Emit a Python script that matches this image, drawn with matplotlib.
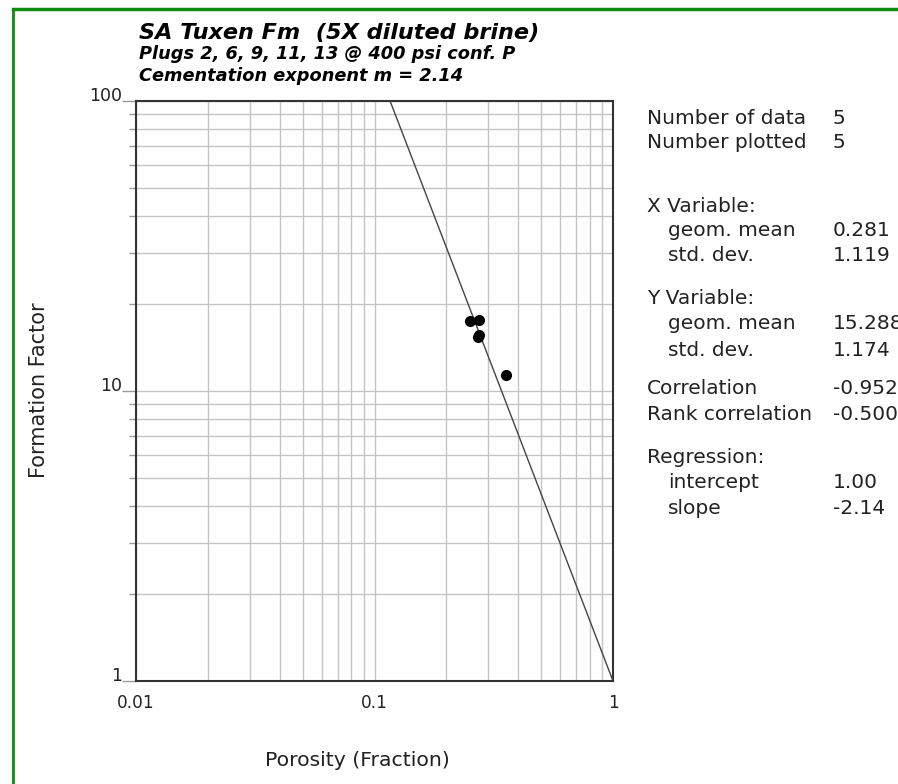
import matplotlib
matplotlib.use("Agg")
import matplotlib.pyplot as plt
import numpy as np
from matplotlib.lines import Line2D
from matplotlib.ticker import LogLocator, NullFormatter, FixedLocator, FixedFormatter

plt.rcParams['font.family'] = ['DejaVu Sans']

# porosity (fraction) and formation factor
porosity = [0.251, 0.275, 0.275, 0.272, 0.355]
formation_factor = [17.5, 17.6, 15.6, 15.3, 11.35]

# regression F = a * phi^-m
intercept = 1.00
m_exp = 2.14

x_ticks = [0.01, 0.1, 1]
x_ticklabels = ["0.01", "0.1", "1"]
y_ticks = [1, 10, 100]
y_ticklabels = ["1", "10", "100"]

title_lines = ["SA Tuxen Fm  (5X diluted brine)",
               "Plugs 2, 6, 9, 11, 13 @ 400 psi conf. P",
               "Cementation exponent m = 2.14"]

stats = [
    ("Number of data", "5", 0),
    ("Number plotted", "5", 0),
    ("X Variable:", "", 0),
    ("geom. mean", "0.281", 1),
    ("std. dev.", "1.119", 1),
    ("Y Variable:", "", 0),
    ("geom. mean", "15.288", 1),
    ("std. dev.", "1.174", 1),
    ("Correlation", "-0.952", 0),
    ("Rank correlation", "-0.500", 0),
    ("Regression:", "", 0),
    ("intercept", "1.00", 1),
    ("slope", "-2.14", 1),
]
stat_rows_y = [118, 143, 206, 231, 256, 299, 324, 350, 389, 415, 458, 483, 508]

W, H = 898, 784
fig = plt.figure(figsize=(W / 100, H / 100), dpi=100)
ax = fig.add_axes([136 / W, 1 - 681 / H, (613 - 136) / W, (681 - 101) / H])

ax.set_xscale("log")
ax.set_yscale("log")
ax.set_xlim(0.01, 1)
ax.set_ylim(1, 100)

ax.grid(True, which="both", color="#c4c4c4", linewidth=1.0)
ax.set_axisbelow(True)

phi = np.logspace(-2, 0, 200)
ax.plot(phi, intercept * phi ** (-m_exp), color="#444444", linewidth=1.0, zorder=3)
ax.plot(porosity, formation_factor, "o", color="black", markersize=7, zorder=4)

ax.xaxis.set_major_locator(FixedLocator(x_ticks))
ax.xaxis.set_major_formatter(FixedFormatter(x_ticklabels))
ax.yaxis.set_major_locator(FixedLocator(y_ticks))
ax.yaxis.set_major_formatter(FixedFormatter(y_ticklabels))
ax.xaxis.set_minor_locator(LogLocator(base=10, subs=np.arange(2, 10)))
ax.yaxis.set_minor_locator(LogLocator(base=10, subs=np.arange(2, 10)))
ax.xaxis.set_minor_formatter(NullFormatter())
ax.yaxis.set_minor_formatter(NullFormatter())

ax.tick_params(axis="x", which="both", length=0, pad=9, labelsize=12.2, labelcolor="#222222")
ax.tick_params(axis="y", which="major", length=10, width=1, color="#999999", pad=0,
               labelsize=12.5, labelcolor="#222222")
ax.tick_params(axis="y", which="minor", length=5, width=1, color="#999999")
for lbl in ax.get_yticklabels():
    lbl.set_va("baseline")

for s in ax.spines.values():
    s.set_color("#333333")
    s.set_linewidth(1.5)

fig.text(357 / W, 1 - 760 / H, "Porosity (Fraction)", ha="center", va="center",
         fontsize=14.7, color="#222222")
fig.text(39 / W, 1 - 390 / H, "Formation Factor", ha="center", va="center",
         rotation=90, fontsize=15, color="#222222")

fig.text(139 / W, 1 - 39 / H, title_lines[0], fontsize=16.1, fontweight="bold",
         fontstyle="italic", va="baseline")
fig.text(139 / W, 1 - 59 / H, title_lines[1], fontsize=12.8, fontweight="bold",
         fontstyle="italic", va="baseline")
fig.text(139 / W, 1 - 81 / H, title_lines[2], fontsize=12.8, fontweight="bold",
         fontstyle="italic", va="baseline")

for row, yy in zip(stats, stat_rows_y):
    label, value, indent = row
    fig.text((647 + 21 * indent) / W, 1 - yy / H, label, fontsize=14.5,
             va="center", color="#222222")
    if value:
        fig.text(833 / W, 1 - yy / H, value, fontsize=14.5, va="center", color="#222222")

# green frame on the top and left edges
fig.add_artist(Line2D([12.5 / W, 1], [1 - 9 / H, 1 - 9 / H], transform=fig.transFigure,
                      color="#108a10", linewidth=2.5))
fig.add_artist(Line2D([12.5 / W, 12.5 / W], [0, 1 - 9 / H], transform=fig.transFigure,
                      color="#108a10", linewidth=2))

fig.savefig("out.png", dpi=100)
